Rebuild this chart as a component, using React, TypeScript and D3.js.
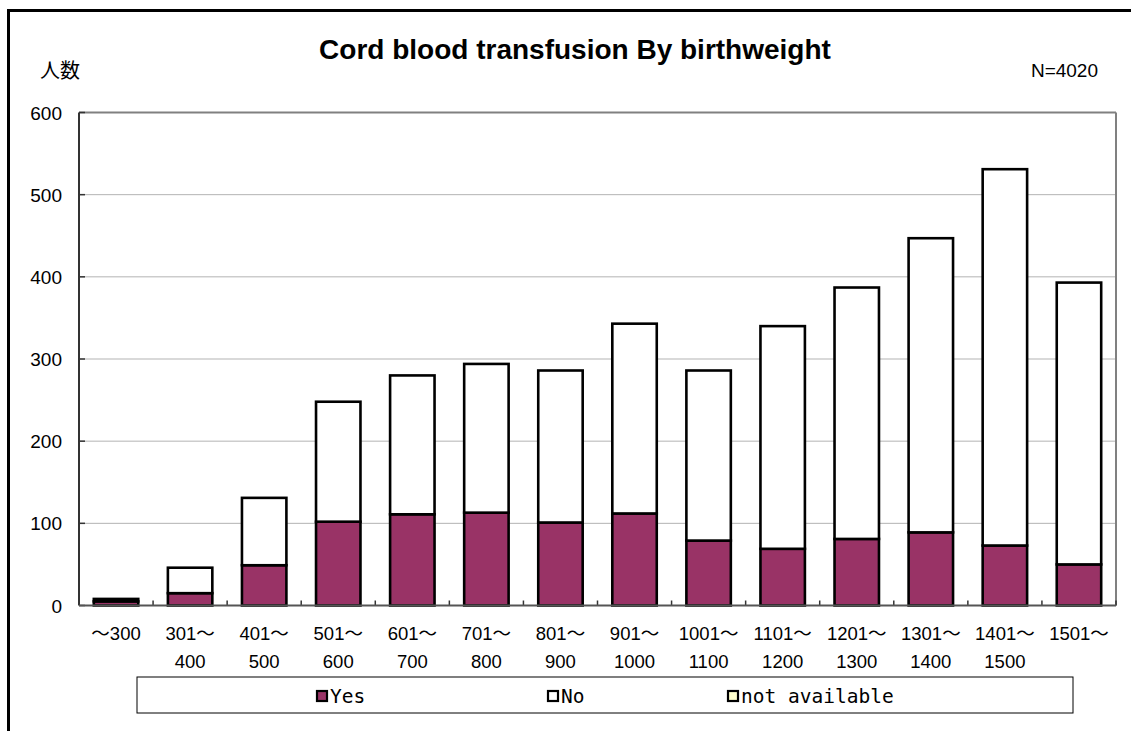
import React from "react";
import * as d3 from "d3";

const categories = ["～300", "301～400", "401～500", "501～600", "601～700", "701～800", "801～900", "901～1000", "1001～1100", "1101～1200", "1201～1300", "1301～1400", "1401～1500", "1501～"];
const labelLine1 = ["～300", "301～", "401～", "501～", "601～", "701～", "801～", "901～", "1001～", "1101～", "1201～", "1301～", "1401～", "1501～"];
const labelLine2 = ["", "400", "500", "600", "700", "800", "900", "1000", "1100", "1200", "1300", "1400", "1500", ""];
const yesValues = [5, 15, 49, 102, 111, 113, 101, 112, 79, 69, 81, 89, 73, 50];
const noValues = [3, 31, 82, 146, 169, 181, 185, 231, 207, 271, 306, 358, 458, 343];
const naValues = [0, 0, 0, 0, 0, 0, 0, 0, 0, 0, 0, 0, 0, 0];
const yTicks = [0, 100, 200, 300, 400, 500, 600];
const seriesKeys = ["yes", "no", "na"];
const seriesNames = ["Yes", "No", "not available"];
const seriesColors = ["#993366", "#ffffff", "#ffffcc"];

const FONT = "'Liberation Sans', Arial, 'Noto Sans CJK JP', sans-serif";
const MONO = "'DejaVu Sans Mono', 'Liberation Mono', monospace";

export default function App() {
  const W = 1131, H = 731;
  const left = 79, right = 1116, top = 112.5, bottom = 605.5;
  const x = d3.scaleBand<string>().domain(categories).range([left, right]).paddingInner(0.4).paddingOuter(0.2);
  const y = d3.scaleLinear().domain([0, 600]).range([bottom, top]);
  const rows = categories.map((c, i) => ({ cat: c, yes: yesValues[i], no: noValues[i], na: naValues[i] }));
  const stacked = d3.stack<any>().keys(seriesKeys)(rows);
  const step = x.step();
  const legendX = [316, 547, 727];

  return (
    <svg width={W} height={H} style={{ position: "absolute", left: 0, top: 0, background: "#fff" }} fontFamily={FONT}>
      <rect x={0} y={0} width={W} height={H} fill="#fff" />
      <rect x={8.5} y={10.5} width={W + 20} height={H + 20} fill="none" stroke="#000" strokeWidth={3} />
      <text x={575} y={59} textAnchor="middle" fontSize={28} fontWeight="bold">Cord blood transfusion By birthweight</text>
      <text x={40} y={78} fontSize={20} fontFamily="'Noto Sans CJK JP', sans-serif">人数</text>
      <text x={1098} y={77} textAnchor="end" fontSize={19}>N=4020</text>

      {yTicks.filter(t => t > 0 && t < 600).map(t => (
        <line key={"g" + t} x1={left} x2={right} y1={y(t)} y2={y(t)} stroke="#b3b3b3" strokeWidth={1} />
      ))}
      <line x1={left} x2={right} y1={top} y2={top} stroke="#808080" strokeWidth={2} />
      <line x1={right} x2={right} y1={top} y2={bottom} stroke="#808080" strokeWidth={2} />

      {yTicks.map(t => (
        <g key={"t" + t}>
          <line x1={left} x2={left + 6} y1={y(t)} y2={y(t)} stroke="#333" strokeWidth={1.5} />
          <text x={62} y={y(t) + 7} textAnchor="end" fontSize={19}>{t}</text>
        </g>
      ))}

      {categories.map((c, i) => (
        <line key={"xt" + i} x1={left + step * (i + 1)} x2={left + step * (i + 1)} y1={bottom} y2={bottom - 5} stroke="#333" strokeWidth={1.5} />
      ))}

      {stacked.map((s, si) => (
        <g key={s.key}>
          {s.map((d, i) => (d[1] - d[0] > 0 ? (
            <rect key={i} x={x(categories[i])!} width={x.bandwidth()} y={y(d[1])} height={y(d[0]) - y(d[1])}
              fill={seriesColors[si]} stroke="#000" strokeWidth={2.6} />
          ) : null))}
        </g>
      ))}

      <line x1={left} x2={left} y1={top} y2={bottom} stroke="#333" strokeWidth={2} />
      <line x1={left} x2={right} y1={bottom} y2={bottom} stroke="#555" strokeWidth={2} />

      {categories.map((c, i) => {
        const cx = x(c)! + x.bandwidth() / 2;
        return (
          <g key={"xl" + i}>
            <text x={cx} y={640} textAnchor="middle" fontSize={18.5}>{labelLine1[i]}</text>
            {labelLine2[i] && <text x={cx} y={668} textAnchor="middle" fontSize={18.5}>{labelLine2[i]}</text>}
          </g>
        );
      })}

      <rect x={137} y={677} width={936} height={36} fill="#fff" stroke="#000" strokeWidth={1} />
      {seriesNames.map((n, i) => (
        <g key={"lg" + i}>
          <rect x={legendX[i] + 1} y={691} width={10} height={10} fill={seriesColors[i]} stroke="#000" strokeWidth={2.2} />
          <text x={legendX[i] + 14} y={703} fontSize={19.5} fontFamily={MONO}>{n}</text>
        </g>
      ))}
    </svg>
  );
}
